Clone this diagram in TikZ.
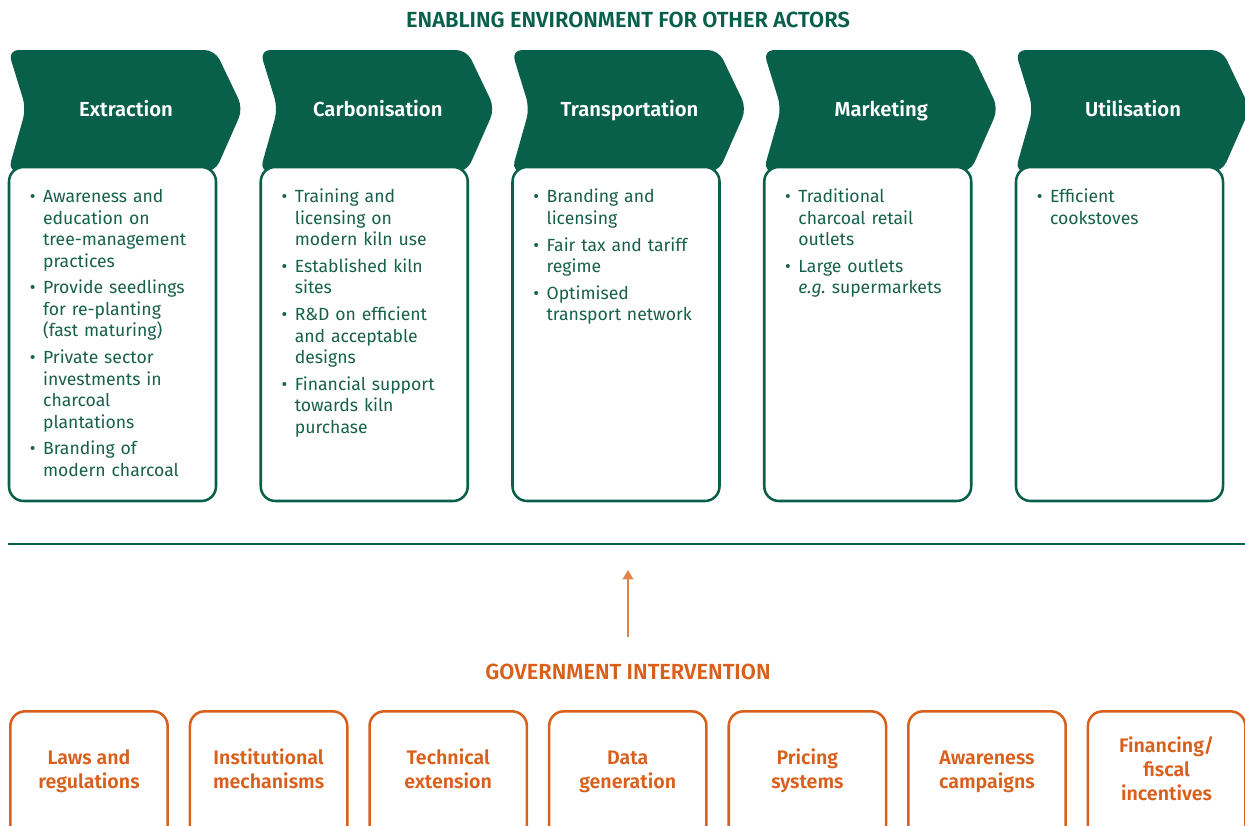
\documentclass[tikz,border=0pt]{standalone}
\usepackage{fontspec}
\setmainfont{Fira Sans}[BoldFont={Fira Sans SemiBold}]
\usetikzlibrary{arrows.meta}
\definecolor{chevgreen}{HTML}{09604A}
\definecolor{txtgreen}{HTML}{17604A}
\definecolor{govorange}{HTML}{D9601C}
\definecolor{arroworange}{HTML}{E2834A}
% bullet item: bullet in a fixed box, lines of the item aligned after it
\newcommand\bul[1]{\par\noindent\makebox[10pt][l]{\textbullet}\parbox[t]{125pt}{\raggedright\strut #1\strut}}
\begin{document}
\begin{tikzpicture}[x=0.75pt,y=-0.75pt,
  chevron/.style={fill=chevgreen, rounded corners=8pt},
  chevlabel/.style={anchor=base, text=white, font=\bfseries\fontsize{15.2}{17}\selectfont, inner sep=0pt},
  stagebox/.style={draw=chevgreen, line width=1.9pt, fill=white, rounded corners=11pt},
  stagetext/.style={anchor=north west, inner sep=0pt, text width=140pt, align=left, text=txtgreen,
    font=\fontsize{13.2}{16.1}\selectfont\setlength\parskip{3.0pt}},
  govbox/.style={draw=govorange, line width=1.9pt, rounded corners=11pt, minimum width=118pt, minimum height=100pt, inner sep=0pt},
  govtext/.style={text=govorange, align=center, inner sep=0pt, font=\bfseries\fontsize{14.7}{18}\selectfont},
  heading/.style={anchor=base, inner sep=0pt, font=\bfseries\fontsize{16.4}{18}\selectfont}
]
\useasboundingbox (0,0) rectangle (1245,825);
\clip (0,0) rectangle (1245,825);

\node[heading, text=chevgreen] (top) at (628,27) {ENABLING ENVIRONMENT FOR OTHER ACTORS};

% value-chain stages: chevron, label and box of actions
\newcommand\stage[5]{%
  \fill[chevron] (#1,50) -- ({#1+207},50) -- ({#1+235},108.5) -- ({#1+207},172) -- (#1,172) -- ({#1+18},108.5) -- cycle;
  \node[chevlabel] (#2) at ({#1+118},116) {#3};
  \draw[stagebox] ({#1+1},167) rectangle ({#1+208},501);
  \node[stagetext] (#4) at ({#1+21.5},177) {#5};
}
\stage{8}{extr}{Extraction}{extrtxt}{%
  \bul{Awareness and\\education on\\tree-management\\practices}%
  \bul{Provide seedlings\\for re-planting\\(fast maturing)}%
  \bul{Private sector\\investments in\\charcoal\\plantations}%
  \bul{Branding of\\modern charcoal}}
\stage{259.75}{carb}{Carbonisation}{carbtxt}{%
  \bul{Training and\\licensing on\\modern kiln use}%
  \bul{Established kiln\\sites}%
  \bul{R\&D on efficient\\and acceptable\\designs}%
  \bul{Financial support\\towards kiln\\purchase}}
\stage{511.5}{tran}{Transportation}{trantxt}{%
  \bul{Branding and\\licensing}%
  \bul{Fair tax and tariff\\regime}%
  \bul{Optimised\\transport network}}
\stage{763.25}{mark}{Marketing}{marktxt}{%
  \bul{Traditional\\charcoal retail\\outlets}%
  \bul{Large outlets\\{\itshape e.g.}\ supermarkets}}
\stage{1015}{util}{Utilisation}{utiltxt}{%
  \bul{Efficient\\cookstoves}}

% separator
\draw[chevgreen, line width=1.9pt] (8,544) -- (1245,544);

% government intervention feeding the value chain
\coordinate (arrfoot) at (628,637);
\coordinate (arrtip) at (628,570);
\draw[arroworange, line width=1.1pt, -{Triangle[length=7pt,width=8pt]}] (arrfoot) -- (arrtip);
\node[heading, text=govorange] (gov) at (628,679) {GOVERNMENT INTERVENTION};

\foreach \cx/\nm/\txt in {
  89/g1/{Laws and\\regulations},
  268.6/g2/{Institutional\\mechanisms},
  448.2/g3/{Technical\\extension},
  627.8/g4/{Data\\generation},
  807.4/g5/{Pricing\\systems},
  987/g6/{Awareness\\campaigns},
  1166.6/g7/{Financing/\\fiscal\\incentives}} {
  \node[govbox] (\nm) at (\cx,778) {};
  \node[govtext] (\nm t) at (\cx,772) {\strut\txt\strut};
}
\end{tikzpicture}
\end{document}
